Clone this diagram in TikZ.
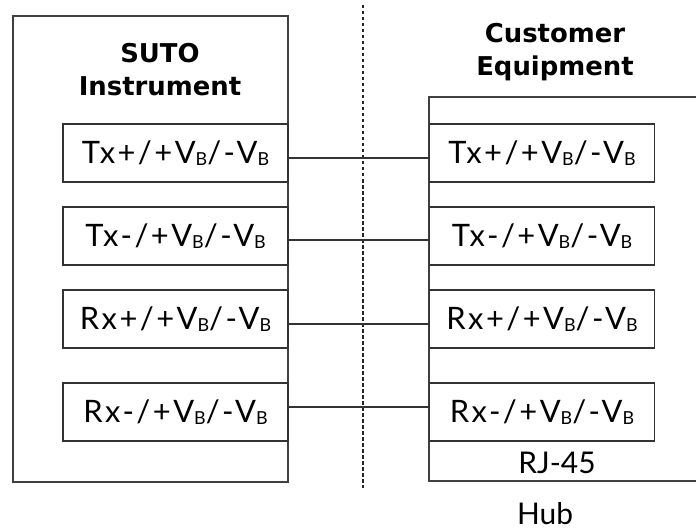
\documentclass[tikz,border=0pt]{standalone}
\usepackage{fontspec}
\setmainfont{Lato}
\newfontfamily\titlefont{DejaVu Sans}
\newfontfamily\pinfont[LetterSpace=8]{Lato}
\newcommand\myVB{V\raisebox{-1.5bp}{\fontsize{18}{18}\selectfont B}}
\begin{document}
\begin{tikzpicture}[x=1bp,y=-1bp,
  frame/.style={draw=black!75, line width=1.6bp},
  pin/.style={draw=black!80, line width=1.6bp, minimum width=225bp, minimum height=58bp, inner sep=0pt,
     font=\pinfont\fontsize{31}{31}\selectfont},
  wire/.style={draw=black!80, line width=1.6bp},
  title/.style={font=\titlefont\bfseries\fontsize{26}{33}\selectfont, align=center},
  lbl/.style={font=\fontsize{30}{30}\selectfont}]
\useasboundingbox (0,0) rectangle (696,532);
% frames
\draw[frame] (13,16) rectangle (288,482);
\draw[frame] (696,97) -- (429,97) -- (429,481) -- (696,481);
% dashed separator
\draw[draw=black!85, line width=1.6bp, dash pattern=on 3.5bp off 2.5bp] (363,5) -- (363,488);
% titles
\node[title] (t1) at (160,70) {SUTO\\Instrument};
\node[title] (t2) at (555,52) {Customer\\Equipment};
% pins
\node[pin] (l1) at (175.5,153) {Tx+/+\myVB/-\myVB};
\node[pin] (l2) at (175.5,236) {Tx-/+\myVB/-\myVB};
\node[pin] (l3) at (175.5,319) {Rx+/+\myVB/-\myVB};
\node[pin] (l4) at (175.5,412) {Rx-/+\myVB/-\myVB};
\node[pin] (r1) at (542,153) {Tx+/+\myVB/-\myVB};
\node[pin] (r2) at (542,236) {Tx-/+\myVB/-\myVB};
\node[pin] (r3) at (542,319) {Rx+/+\myVB/-\myVB};
\node[pin] (r4) at (542,412) {Rx-/+\myVB/-\myVB};
% wires
\draw[wire] ([yshift=-5bp]l1.east) -- ([yshift=-5bp]r1.west);
\draw[wire] ([yshift=-4bp]l2.east) -- ([yshift=-4bp]r2.west);
\draw[wire] ([yshift=-5bp]l3.east) -- ([yshift=-5bp]r3.west);
\draw[wire] ([yshift=5bp]l4.east) -- ([yshift=5bp]r4.west);
% labels
\node[lbl] (rj) at (557,463) {RJ-45};
\node[lbl] (hub) at (545,514) {Hub};
\end{tikzpicture}
\end{document}
